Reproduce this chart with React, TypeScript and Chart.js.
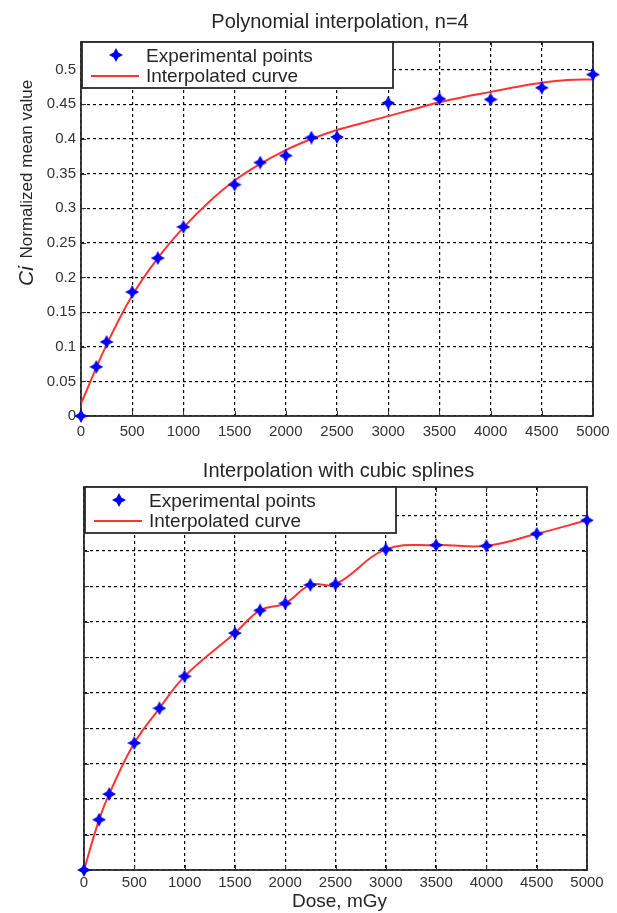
import { useEffect, useRef } from "react";
import { Chart, registerables } from "chart.js";

Chart.register(...registerables);

// ---- data ----
const doseValues = [0, 150, 250, 500, 750, 1000, 1500, 1750, 2000, 2250, 2500, 3000, 3500, 4000, 4500, 5000];
const experimentalValues = [0, 0.071, 0.107, 0.179, 0.228, 0.273, 0.334, 0.366, 0.376, 0.402, 0.403, 0.452, 0.458, 0.457, 0.474, 0.493];

// polynomial (n=4) curve, every 250 mGy
const polyDose = [0, 250, 500, 750, 1000, 1250, 1500, 1750, 2000, 2250, 2500, 2750, 3000, 3250, 3500, 3750, 4000, 4250, 4500, 4750, 5000];
const polyValues = [0.018, 0.103, 0.174, 0.228, 0.272, 0.309, 0.34, 0.364, 0.384, 0.4, 0.413, 0.423, 0.433, 0.443, 0.453, 0.461, 0.468, 0.475, 0.481, 0.485, 0.486];

const xTickValues = [0, 500, 1000, 1500, 2000, 2500, 3000, 3500, 4000, 4500, 5000];
const yTickValues = [0, 0.05, 0.1, 0.15, 0.2, 0.25, 0.3, 0.35, 0.4, 0.45, 0.5];
const xRange = [0, 5000];
const yRange = [0, 0.54];

const topTitle = "Polynomial interpolation, n=4";
const bottomTitle = "Interpolation with cubic splines";
const legendLabels = ["Experimental points", "Interpolated curve"];
const yLabelSymbol = "Ci";
const yLabelText = " Normalized mean value";
const xLabelText = "Dose, mGy";

const FONT = '"Liberation Sans", Arial, Helvetica, sans-serif';
const BLUE = "#0000ff";
const RED = "#ff3333";
const INK = "#262626";

function makeStar(size: number): HTMLCanvasElement {
  const c = document.createElement("canvas");
  c.width = size;
  c.height = size;
  const g = c.getContext("2d")!;
  const h = size / 2;
  const w = size * 0.17;
  g.fillStyle = BLUE;
  g.beginPath();
  g.moveTo(h, 0);
  g.lineTo(h + w, h - w);
  g.lineTo(size, h);
  g.lineTo(h + w, h + w);
  g.lineTo(h, size);
  g.lineTo(h - w, h + w);
  g.lineTo(0, h);
  g.lineTo(h - w, h - w);
  g.closePath();
  g.fill();
  return c;
}

type PanelOpts = {
  kind: "poly" | "spline";
  title: string;
  titleBaseline: number;
  showYTicks: boolean;
  showYLabel: boolean;
  showXLabel: boolean;
  padding: { left: number; right: number; top: number; bottom: number };
  yAxisWidth: number;
  xAxisHeight: number;
  xTickPadding: number;
};

function buildChart(canvas: HTMLCanvasElement, o: PanelOpts) {
  const star = makeStar(14);
  const points = doseValues.map((x, i) => ({ x, y: experimentalValues[i] }));
  const curve =
    o.kind === "poly"
      ? polyDose.map((x, i) => ({ x, y: polyValues[i] }))
      : doseValues.map((x, i) => ({ x, y: experimentalValues[i] }));

  const framePlugin = {
    id: "frame",
    beforeDatasetsDraw(chart: any) {
      const { ctx, chartArea: a, scales } = chart;
      ctx.save();
      ctx.strokeStyle = "#333";
      ctx.lineWidth = 1;
      for (const v of xTickValues) {
        const px = Math.round(scales.x.getPixelForValue(v)) + 0.5;
        ctx.beginPath();
        ctx.moveTo(px, a.bottom);
        ctx.lineTo(px, a.bottom - 5);
        ctx.moveTo(px, a.top);
        ctx.lineTo(px, a.top + 5);
        ctx.stroke();
      }
      for (const v of yTickValues) {
        const py = Math.round(scales.y.getPixelForValue(v)) + 0.5;
        ctx.beginPath();
        ctx.moveTo(a.left, py);
        ctx.lineTo(a.left + 5, py);
        ctx.moveTo(a.right, py);
        ctx.lineTo(a.right - 5, py);
        ctx.stroke();
      }
      ctx.lineWidth = 1.8;
      ctx.strokeStyle = "#2a2a2a";
      ctx.strokeRect(a.left, a.top, a.right - a.left, a.bottom - a.top);
      ctx.restore();
    },
  };

  const decorPlugin = {
    id: "decor",
    afterDraw(chart: any) {
      const { ctx, chartArea: a } = chart;
      ctx.save();
      ctx.fillStyle = INK;
      ctx.font = `20px ${FONT}`;
      ctx.textAlign = "center";
      ctx.textBaseline = "alphabetic";
      ctx.fillText(o.title, (a.left + a.right) / 2 + 3, o.titleBaseline);

      const lx = a.left + 1;
      const ly = a.top;
      const lw = 311;
      const lh = 46;
      ctx.fillStyle = "#ffffff";
      ctx.fillRect(lx, ly, lw, lh);
      ctx.strokeStyle = "#2a2a2a";
      ctx.lineWidth = 1.8;
      ctx.strokeRect(lx, ly, lw, lh);
      ctx.drawImage(star, lx + 34 - 7, ly + 13 - 7);
      ctx.strokeStyle = RED;
      ctx.lineWidth = 2;
      ctx.beginPath();
      ctx.moveTo(lx + 9, ly + 34);
      ctx.lineTo(lx + 57, ly + 34);
      ctx.stroke();
      ctx.fillStyle = INK;
      ctx.font = `19px ${FONT}`;
      ctx.textAlign = "left";
      ctx.fillText(legendLabels[0], lx + 64, ly + 20);
      ctx.fillText(legendLabels[1], lx + 64, ly + 40);

      if (o.showYLabel) {
        ctx.save();
        ctx.translate(27, 286);
        ctx.rotate(-Math.PI / 2);
        ctx.textAlign = "left";
        ctx.textBaseline = "middle";
        ctx.font = `italic 21px ${FONT}`;
        ctx.fillText(yLabelSymbol, 0, 0);
        const w = ctx.measureText(yLabelSymbol).width;
        ctx.font = `17px ${FONT}`;
        ctx.fillText(yLabelText, w + 3, 0);
        ctx.restore();
      }
      if (o.showXLabel) {
        ctx.font = `19px ${FONT}`;
        ctx.textAlign = "center";
        ctx.textBaseline = "alphabetic";
        ctx.fillText(xLabelText, (a.left + a.right) / 2 + 4, 457);
      }
      ctx.restore();
    },
  };

  const tickFont = { family: FONT, size: 15 };

  return new Chart(canvas, {
    type: "scatter",
    data: {
      datasets: [
        {
          label: legendLabels[0],
          data: points,
          showLine: false,
          pointStyle: star as any,
          pointRadius: 7,
          pointHoverRadius: 7,
          borderColor: BLUE,
          backgroundColor: BLUE,
          clip: false as any,
        },
        {
          label: legendLabels[1],
          data: curve,
          showLine: true,
          borderColor: RED,
          backgroundColor: RED,
          borderWidth: 2,
          pointRadius: 0,
          pointHoverRadius: 0,
          tension: o.kind === "poly" ? 0 : 0.4,
          cubicInterpolationMode: o.kind === "poly" ? "monotone" : "default",
        },
      ],
    },
    options: {
      animation: false,
      responsive: false,
      devicePixelRatio: 1,
      events: [],
      layout: { padding: o.padding },
      plugins: {
        legend: { display: false },
        tooltip: { enabled: false },
        title: { display: false },
      },
      scales: {
        x: {
          type: "linear",
          min: xRange[0],
          max: xRange[1],
          afterBuildTicks: (s: any) => {
            s.ticks = xTickValues.map((v) => ({ value: v }));
          },
          afterFit: (s: any) => {
            s.height = o.xAxisHeight;
          },
          grid: { color: "#000000", lineWidth: 1.2, drawTicks: false },
          border: { display: false, dash: [3, 3] },
          ticks: {
            padding: o.xTickPadding,
            font: tickFont,
            color: "#333",
            maxRotation: 0,
            autoSkip: false,
            callback: (v: any) => String(v),
          },
        },
        y: {
          type: "linear",
          min: yRange[0],
          max: yRange[1],
          afterBuildTicks: (s: any) => {
            s.ticks = yTickValues.map((v) => ({ value: v }));
          },
          afterFit: (s: any) => {
            s.width = o.yAxisWidth;
          },
          grid: { color: "#000000", lineWidth: 1.2, drawTicks: false },
          border: { display: false, dash: [3, 3] },
          ticks: {
            display: o.showYTicks,
            padding: 5,
            font: tickFont,
            color: "#333",
            autoSkip: false,
            callback: (v: any) => String(v),
          },
        },
      },
    } as any,
    plugins: [framePlugin, decorPlugin],
  });
}

function Panel({ opts, height }: { opts: PanelOpts; height: number }) {
  const ref = useRef<HTMLCanvasElement | null>(null);
  useEffect(() => {
    if (!ref.current) return;
    const chart = buildChart(ref.current, opts);
    return () => chart.destroy();
  }, []);
  return <canvas ref={ref} width={617} height={height} style={{ display: "block", width: 617, height }} />;
}

const topOpts: PanelOpts = {
  kind: "poly",
  title: topTitle,
  titleBaseline: 28,
  showYTicks: true,
  showYLabel: true,
  showXLabel: false,
  padding: { left: 41, right: 24, top: 42, bottom: 4 },
  yAxisWidth: 40,
  xAxisHeight: 30,
  xTickPadding: 7,
};

const bottomOpts: PanelOpts = {
  kind: "spline",
  title: bottomTitle,
  titleBaseline: 27,
  showYTicks: false,
  showYLabel: false,
  showXLabel: true,
  padding: { left: 84, right: 30, top: 37, bottom: 0 },
  yAxisWidth: 0,
  xAxisHeight: 43,
  xTickPadding: 4,
};

export default function App() {
  return (
    <div style={{ position: "absolute", left: 0, top: 0, width: 617, height: 913, background: "#fff" }}>
      <Panel opts={topOpts} height={450} />
      <Panel opts={bottomOpts} height={463} />
    </div>
  );
}
